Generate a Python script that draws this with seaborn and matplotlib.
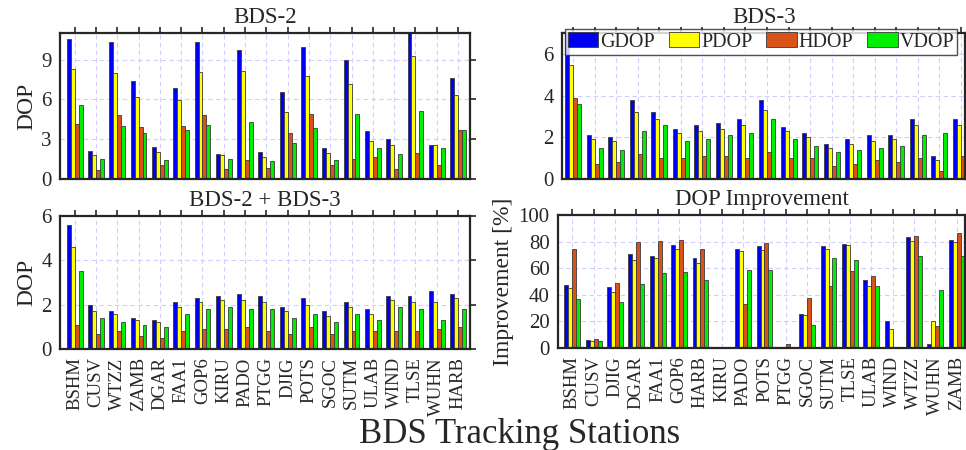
import matplotlib
matplotlib.use('Agg')
import matplotlib.pyplot as plt
from matplotlib.patches import Patch
import pandas as pd
import seaborn as sns

# station order used by the three DOP panels
stations = ['BSHM', 'CUSV', 'WTZZ', 'ZAMB', 'DGAR', 'FAA1', 'GOP6', 'KIRU', 'PADO', 'PTGG',
            'DJIG', 'POTS', 'SGOC', 'SUTM', 'ULAB', 'WIND', 'TLSE', 'WUHN', 'HARB']
# station order of the improvement panel
stations_imp = ['BSHM', 'CUSV', 'DJIG', 'DGAR', 'FAA1', 'GOP6', 'HARB', 'KIRU', 'PADO', 'POTS',
                'PTGG', 'SGOC', 'SUTM', 'TLSE', 'ULAB', 'WIND', 'WTZZ', 'WUHN', 'ZAMB']
dop_types = ['GDOP', 'PDOP', 'HDOP', 'VDOP']

# BDS-2
b2_gdop = [10.55, 2.1, 10.3, 7.4, 2.43, 6.83, 10.33, 1.88, 9.7, 2.0, 6.53, 9.98, 2.3, 8.98, 3.65, 3.03, 11.5, 2.6, 7.63]
b2_pdop = [8.3, 1.8, 8.0, 6.2, 2.0, 5.98, 8.08, 1.78, 8.13, 1.68, 5.03, 7.75, 1.98, 7.18, 2.9, 2.53, 9.25, 2.6, 6.35]
b2_hdop = [4.18, 0.68, 4.85, 3.95, 1.03, 4.03, 4.85, 0.78, 1.43, 0.8, 3.48, 4.88, 1.03, 1.48, 1.63, 0.78, 1.95, 1.03, 3.7]
b2_vdop = [5.6, 1.48, 3.98, 3.5, 1.45, 3.73, 4.1, 1.48, 4.33, 1.38, 2.75, 3.83, 1.4, 4.93, 2.3, 1.85, 5.15, 2.3, 3.73]

# BDS-3
b3_gdop = [7.2, 2.1, 2.0, 3.81, 3.19, 2.41, 2.6, 2.7, 2.9, 3.81, 2.5, 2.2, 1.7, 1.9, 2.1, 2.1, 2.9, 1.1, 2.9]
b3_pdop = [5.49, 1.9, 1.8, 3.19, 2.9, 2.2, 2.3, 2.41, 2.6, 3.3, 2.3, 2.0, 1.5, 1.7, 1.8, 1.9, 2.6, 0.9, 2.6]
b3_hdop = [3.9, 0.7, 0.8, 1.21, 1.0, 1.0, 1.1, 1.1, 1.0, 1.31, 1.0, 1.0, 0.6, 0.7, 0.9, 0.8, 1.0, 0.4, 1.1]
b3_vdop = [3.6, 1.5, 1.4, 2.3, 2.6, 1.8, 1.9, 2.1, 2.2, 2.9, 1.9, 1.6, 1.3, 1.4, 1.5, 1.6, 2.1, 2.2, 0.7]

# BDS-2 + BDS-3
bc_gdop = [5.6, 2.0, 1.7, 1.4, 1.29, 2.1, 2.3, 2.4, 2.5, 2.4, 1.89, 2.3, 1.7, 2.1, 1.8, 2.4, 2.4, 2.6, 2.5]
bc_pdop = [4.59, 1.7, 1.59, 1.29, 1.2, 1.89, 2.1, 2.2, 2.2, 2.1, 1.7, 2.0, 1.49, 1.89, 1.59, 2.2, 2.1, 2.1, 2.3]
bc_hdop = [1.08, 0.69, 0.8, 0.6, 0.5, 0.8, 0.9, 0.9, 0.99, 0.8, 0.69, 0.99, 0.69, 0.8, 0.8, 0.8, 0.8, 0.9, 0.99]
bc_vdop = [3.5, 1.4, 1.2, 1.1, 0.99, 1.59, 1.8, 1.89, 1.8, 1.8, 1.4, 1.59, 1.2, 1.59, 1.29, 1.89, 1.8, 1.29, 1.8]

# improvement [%]
imp_gdop = [47.3, 5.8, 45.8, 70.8, 68.8, 77.8, 67.3, 0, 74.3, 77, 0, 25.8, 77, 78.5, 51, 20.5, 83.5, 2.8, 81.3]
imp_pdop = [45, 5, 41.8, 65.8, 68, 74.5, 64, 0, 72.8, 74, 0, 25, 74.5, 77.8, 46.8, 14, 80.8, 20, 79.5]
imp_hdop = [74.8, 7, 49, 79.5, 80.5, 81.3, 74.8, 0, 33, 78.8, 3.3, 37.8, 46.5, 58, 54.5, 0, 84, 16.8, 86.3]
imp_vdop = [37, 5.3, 34.5, 48, 56.5, 57.3, 50.8, 0, 58.5, 59, 0, 17.5, 68, 66.3, 46.3, 0, 69.3, 43.3, 69.3]

colors = ['#0000F0', '#FFFF00', '#D95319', '#00EE00']
fnt = 'Liberation Serif'


def make_df(names, g, p, h, v):
    rows = []
    for i, s in enumerate(names):
        for t, vals in zip(dop_types, [g, p, h, v]):
            rows.append({'station': s, 'type': t, 'value': vals[i]})
    return pd.DataFrame(rows)


sns.set_style('white')
plt.rcParams['font.family'] = [fnt, 'DejaVu Serif']
plt.rcParams['axes.edgecolor'] = '#262626'
plt.rcParams['axes.linewidth'] = 1.6

fig = plt.figure(figsize=(9.66, 4.5), dpi=100)
ax_tl = fig.add_axes([0.0621, 0.6022, 0.4244, 0.3244])
ax_tr = fig.add_axes([0.5818, 0.6022, 0.4175, 0.3244])
ax_bl = fig.add_axes([0.0621, 0.2244, 0.4244, 0.2956])
ax_br = fig.add_axes([0.5776, 0.2267, 0.4216, 0.2955])

panels = [
    (ax_tl, make_df(stations, b2_gdop, b2_pdop, b2_hdop, b2_vdop), stations, 'BDS-2', (0, 11), [0, 3, 6, 9], (-0.69, 18.56), 'DOP'),
    (ax_tr, make_df(stations, b3_gdop, b3_pdop, b3_hdop, b3_vdop), stations, 'BDS-3', (0, 7), [0, 2, 4, 6], (-0.51, 18.2), None),
    (ax_bl, make_df(stations, bc_gdop, bc_pdop, bc_hdop, bc_vdop), stations, 'BDS-2 + BDS-3', (0, 6), [0, 2, 4, 6], (-0.69, 18.56), 'DOP'),
    (ax_br, make_df(stations_imp, imp_gdop, imp_pdop, imp_hdop, imp_vdop), stations_imp, 'DOP Improvement', (0, 100), [0, 20, 40, 60, 80, 100], (-0.67, 18.4), 'Improvement [%]'),
]

for i, (ax, df, order, title, ylim, yticks, xlim, ylabel) in enumerate(panels):
    sns.barplot(data=df, x='station', y='value', hue='type', order=order, hue_order=dop_types,
                palette=colors, width=0.74, edgecolor='#3a3a3a', linewidth=0.6,
                saturation=1, legend=False, ax=ax)
    ax.set_axisbelow(True)
    ax.grid(True, linestyle=(0, (4, 3)), color='#CFCFFF', linewidth=0.8)
    ax.set_ylim(*ylim)
    ax.set_yticks(yticks)
    ax.set_xlim(*xlim)
    ax.set_title(title, fontsize=16.5, pad=7)
    ax.tick_params(direction='out', length=4, width=1.2, top=True, right=True,
                   labelsize=15, color='#262626', labelcolor='#262626', pad=2)
    ax.set_ylabel(ylabel if ylabel else '', fontsize=17, labelpad=3)
    ax.set_xlabel('')
    if i < 2:
        ax.set_xticklabels([])
    else:
        ax.set_xticks(range(len(order)))
        ax.set_xticklabels(order, rotation=90, fontsize=13.5)
    for sp in ax.spines.values():
        sp.set_visible(True)

handles = [Patch(facecolor=c, edgecolor='#3a3a3a', linewidth=0.6) for c in colors]
leg = ax_tr.legend(handles, dop_types, loc='upper right', bbox_to_anchor=(0.98, 1.027),
                   ncol=4, fontsize=14.5, frameon=True, fancybox=False, handlelength=1.5,
                   handleheight=0.75, handletextpad=0.1, columnspacing=0.7, borderpad=0.15,
                   borderaxespad=0)
leg.get_frame().set_edgecolor('#262626')
leg.get_frame().set_linewidth(1.0)

fig.text(0.538, 0.035, 'BDS Tracking Stations', ha='center', va='center', fontsize=25, color='#262626')

fig.savefig('out.png', dpi=100)
